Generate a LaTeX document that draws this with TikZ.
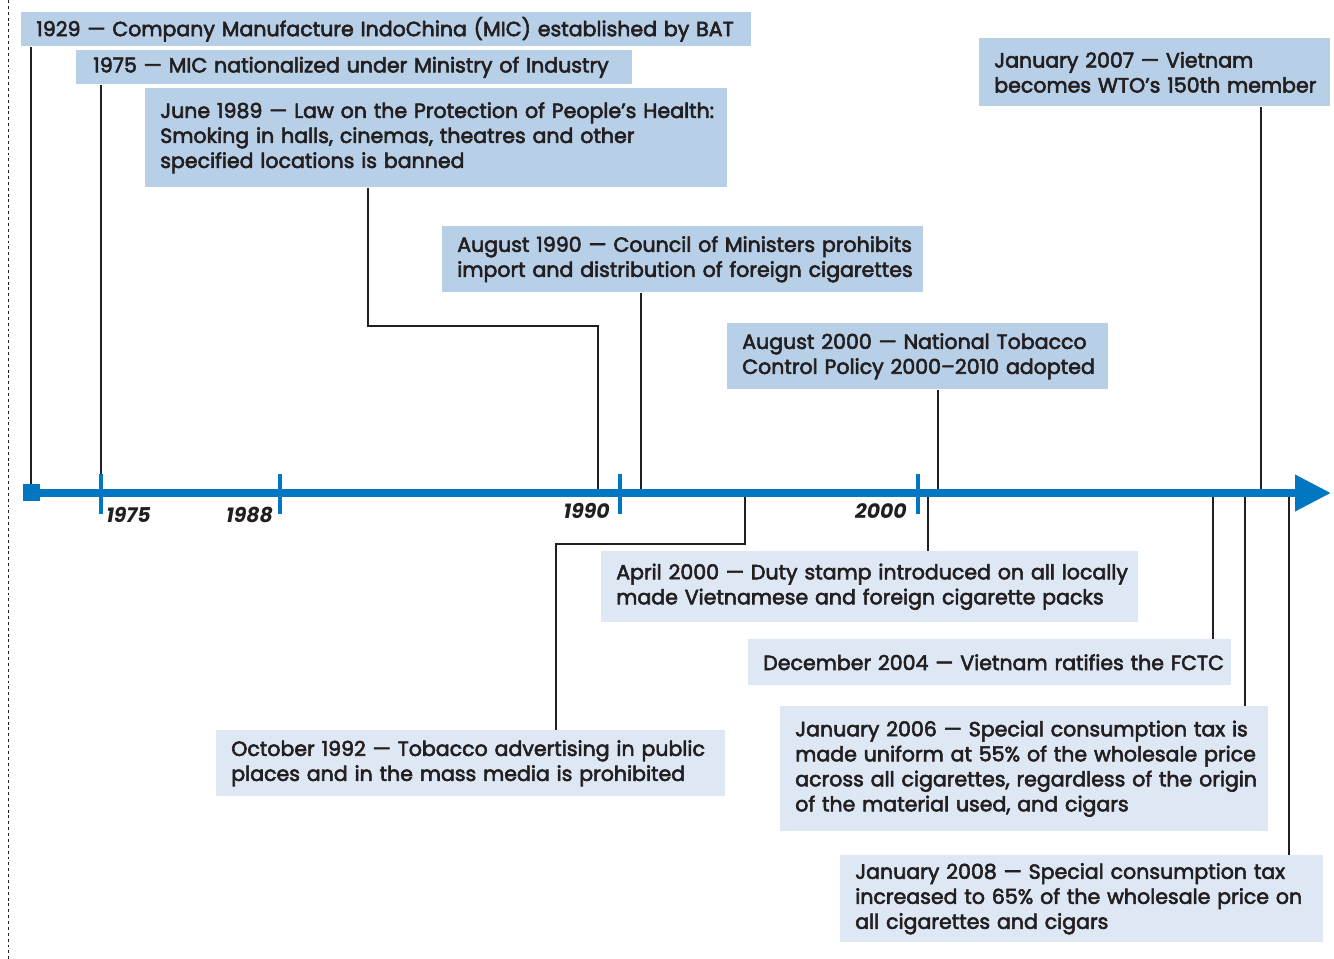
\documentclass[tikz,border=0pt]{standalone}
\usepackage{fontspec}
\setmainfont{Poppins}
\newfontfamily\semib{Poppins}[FakeBold=2.8]
\usetikzlibrary{arrows.meta}
\definecolor{axisblue}{HTML}{0077C0}
\definecolor{boxdark}{HTML}{B8CFE8}
\definecolor{boxlight}{HTML}{DEE8F5}
\definecolor{ink}{HTML}{231F20}
\newcommand\Ln[1]{\mbox{#1}}
\begin{document}
\begin{tikzpicture}[x=0.75pt,y=-0.75pt,
  evt/.style={anchor=north west, inner xsep=11.25pt, inner ysep=0pt, align=left,
    font=\semib\fontsize{15.4}{18.75}\selectfont, text=ink},
  topbox/.style={evt, fill=boxdark},
  botbox/.style={evt, fill=boxlight},
  conn/.style={draw=ink, line width=2pt},
  tick/.style={draw=axisblue, line width=3.6pt},
  yearlab/.style={font=\fontsize{15.3}{16}\selectfont\bfseries\itshape, text=ink, inner sep=0pt},
]
\useasboundingbox (0,0) rectangle (1334,959);
\draw[ink, line width=0.7pt, dash pattern=on 2.2pt off 2.2pt] (8,0) -- (8,959);

% top boxes
\node[topbox, text width={(730-30)*0.75pt}, minimum height={34*0.75pt}] (n1929) at (21,12)
  {\Ln{1929 — Company Manufacture IndoChina (MIC) established by BAT}};
\node[topbox, text width={(556-34)*0.75pt}, inner xsep=12.75pt, minimum height={34*0.75pt}] (n1975) at (76,50)
  {\Ln{1975 — MIC nationalized under Ministry of Industry}};
\node[topbox, text width={(582-30)*0.75pt}, minimum height={99*0.75pt}] (n1989) at (145,88)
  {\Ln{June 1989 — Law on the Protection of People’s Health:}\\ \Ln{Smoking in halls, cinemas, theatres and other}\\ \Ln{specified locations is banned}};
\node[topbox, text width={(481-30)*0.75pt}, minimum height={66*0.75pt}] (n1990) at (442,226)
  {\Ln{August 1990 — Council of Ministers prohibits}\\ \Ln{import and distribution of foreign cigarettes}};
\node[topbox, text width={(381-30)*0.75pt}, minimum height={66*0.75pt}] (n2000a) at (727,323)
  {\Ln{August 2000 — National Tobacco}\\ \Ln{Control Policy 2000–2010 adopted}};
\node[topbox, text width={(351-30)*0.75pt}, minimum height={68*0.75pt}] (n2007) at (979,38)
  {\Ln{January 2007 — Vietnam}\\ \Ln{becomes WTO’s 150th member}};

% bottom boxes
\node[botbox, text width={(537-30)*0.75pt}, minimum height={71*0.75pt}] (n2000b) at (601,551)
  {\Ln{April 2000 — Duty stamp introduced on all locally}\\ \Ln{made Vietnamese and foreign cigarette packs}};
\node[botbox, text width={(483-30)*0.75pt}, minimum height={46*0.75pt}] (n2004) at (748,639)
  {\Ln{December 2004 — Vietnam ratifies the FCTC}};
\node[botbox, text width={(509-30)*0.75pt}, minimum height={66*0.75pt}] (n1992) at (216,730)
  {\Ln{October 1992 — Tobacco advertising in public}\\ \Ln{places and in the mass media is prohibited}};
\node[botbox, text width={(488-30)*0.75pt}, minimum height={125*0.75pt}] (n2006) at (780,706)
  {\Ln{January 2006 — Special consumption tax is}\\ \Ln{made uniform at 55\% of the wholesale price}\\ \Ln{across all cigarettes, regardless of the origin}\\ \Ln{of the material used, and cigars}};
\node[botbox, text width={(483-30)*0.75pt}, minimum height={87*0.75pt}] (n2008) at (840,855)
  {\Ln{January 2008 — Special consumption tax}\\ \Ln{increased to 65\% of the wholesale price on}\\ \Ln{all cigarettes and cigars}};

% axis anchor points
\coordinate (start) at (23,493);
\coordinate (tip) at (1331,493);
\coordinate (a1929) at (31,493);
\coordinate (a1975) at (101,493);
\coordinate (a1989) at (598,493);
\coordinate (k1989) at (368,326);
\coordinate (a1990) at (641,493);
\coordinate (a2000a) at (938,493);
\coordinate (a2007) at (1261,493);
\coordinate (a1992) at (745,493);
\coordinate (k1992) at (556,544);
\coordinate (a2000b) at (928,493);
\coordinate (a2004) at (1213,493);
\coordinate (a2006) at (1245,493);
\coordinate (a2008) at (1289,493);

% connectors
\draw[conn] (a1929 |- n1929.south) -- (a1929);
\draw[conn] (a1975 |- n1975.south) -- (a1975);
\draw[conn] (k1989 |- n1989.south) -- (k1989) -| (a1989);
\draw[conn] (a1990 |- n1990.south) -- (a1990);
\draw[conn] (a2000a |- n2000a.south) -- (a2000a);
\draw[conn] (a2007 |- n2007.south) -- (a2007);
\draw[conn] (a1992) |- (k1992) -- (k1992 |- n1992.north);
\draw[conn] (a2000b) -- (a2000b |- n2000b.north);
\draw[conn] (a2004) -- (a2004 |- n2004.north);
\draw[conn] (a2006) -- (a2006 |- n2006.north);
\draw[conn] (a2008) -- (a2008 |- n2008.north);

% axis
\draw[axisblue, line width=6pt, -{Triangle[length=27pt, width=26pt]}] (start) -- (tip);
\fill[axisblue] (23,484) rectangle (40,501);
\draw[tick] (101,474) -- (101,514);
\draw[tick] (280,474) -- (280,514);
\draw[tick] (620,474) -- (620,514);
\draw[tick] (918,474) -- (918,514);
\node[yearlab, anchor=base west] (y1975) at (106,522) {1975};
\node[yearlab, anchor=base east] (y1988) at (273,522) {1988};
\node[yearlab, anchor=base east] (y1990) at (610,518) {1990};
\node[yearlab, anchor=base east] (y2000) at (907,518) {2000};
\end{tikzpicture}
\end{document}
